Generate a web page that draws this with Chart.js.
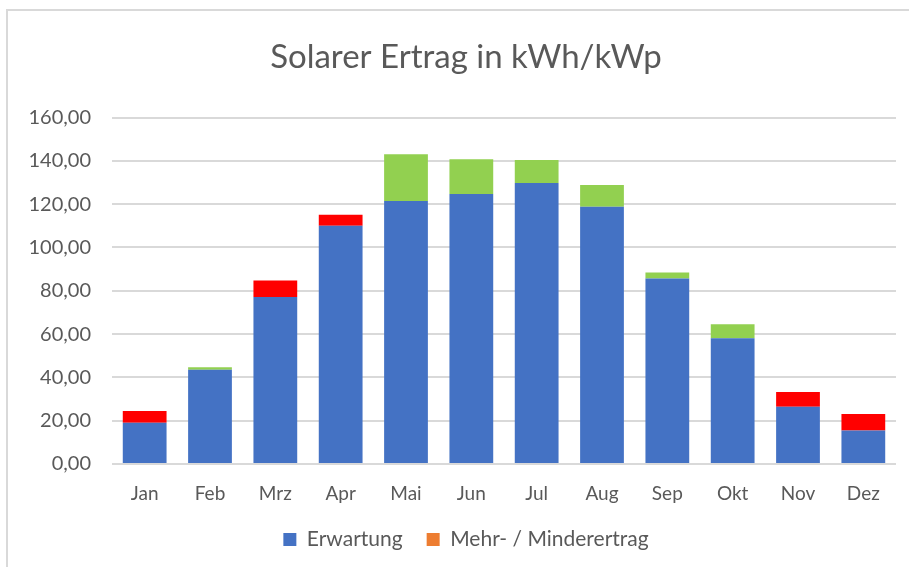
<!DOCTYPE html>
<html>
<head>
<meta charset="utf-8">
<script src="https://cdn.jsdelivr.net/npm/chart.js@4"></script>
<style>
  html, body { margin: 0; padding: 0; background: #fff; overflow: hidden; width: 909px; height: 567px; }
  #box { position: absolute; left: 6px; top: 9px; width: 918px; height: 600px; border: 2px solid #d9d9d9; box-sizing: border-box; }
  #chart { position: absolute; left: 7px; top: 10px; }
</style>
</head>
<body>
<div id="box"></div>
<canvas id="chart" width="918" height="550"></canvas>
<script>
// Monatswerte (kWh/kWp)
const monate = ['Jan', 'Feb', 'Mrz', 'Apr', 'Mai', 'Jun', 'Jul', 'Aug', 'Sep', 'Okt', 'Nov', 'Dez'];
const erwartung = [19.1, 43.5, 77.1, 110.0, 121.5, 124.7, 129.8, 118.8, 85.7, 58.1, 26.5, 15.5];
// positiv = Mehrertrag, negativ = Minderertrag
const differenz = [-5.4, 1.2, -7.6, -5.1, 21.6, 16.1, 10.6, 10.1, 2.7, 6.4, -6.8, -7.6];
const yTicks = [0, 20, 40, 60, 80, 100, 120, 140, 160];

const textColor = '#595959';
const fontName = 'Lato, "Open Sans", sans-serif';

const ctx = document.getElementById('chart').getContext('2d');

new Chart(ctx, {
  type: 'bar',
  data: {
    labels: monate,
    datasets: [
      {
        label: 'Erwartung',
        data: erwartung,
        backgroundColor: '#4472C4',
      },
      {
        label: 'Mehr- / Minderertrag',
        data: differenz.map(d => Math.abs(d)),
        backgroundColor: c => differenz[c.dataIndex] >= 0 ? '#92D050' : '#FF0000',
      },
    ],
  },
  options: {
    responsive: false,
    animation: false,
    events: [],
    categoryPercentage: 1,
    barPercentage: 0.67,
    scales: {
      x: {
        stacked: true,
        grid: { display: false, drawTicks: false },
        border: { display: false },
        ticks: { color: textColor, font: { family: fontName, size: 19 }, padding: 18 },
        afterFit: s => { s.height = 41; },
      },
      y: {
        stacked: true,
        min: 0,
        max: 160,
        afterBuildTicks: s => { s.ticks = yTicks.map(v => ({ value: v })); },
        grid: { color: '#d9d9d9', lineWidth: 2, drawTicks: false },
        border: { display: false },
        ticks: {
          color: textColor,
          font: { family: fontName, size: 20 },
          padding: 21,
          callback: v => v.toFixed(2).replace('.', ','),
        },
        afterFit: s => { s.width = 105; },
      },
      // leerer Rand rechts, damit Titel/Legende mittig im Rahmen bleiben
      rand: {
        position: 'right',
        grid: { display: false },
        border: { display: false },
        ticks: { display: false },
        afterFit: s => { s.width = 29; },
      },
    },
    plugins: {
      title: {
        display: true,
        text: 'Solarer Ertrag in kWh/kWp',
        color: textColor,
        font: { family: fontName, size: 33, weight: 'normal' },
        padding: { top: 28, bottom: 40 },
      },
      legend: {
        position: 'bottom',
        labels: {
          color: textColor,
          font: { family: fontName, size: 21 },
          boxWidth: 13,
          boxHeight: 13,
          padding: 24,
          generateLabels: chart => {
            const items = Chart.defaults.plugins.legend.labels.generateLabels(chart);
            items.forEach((it, i) => {
              it.fillStyle = i === 0 ? '#4472C4' : '#ED7D31';
              it.lineWidth = 0;
              it.strokeStyle = 'transparent';
            });
            return items;
          },
        },
      },
      tooltip: { enabled: false },
    },
  },
});
</script>
</body>
</html>
